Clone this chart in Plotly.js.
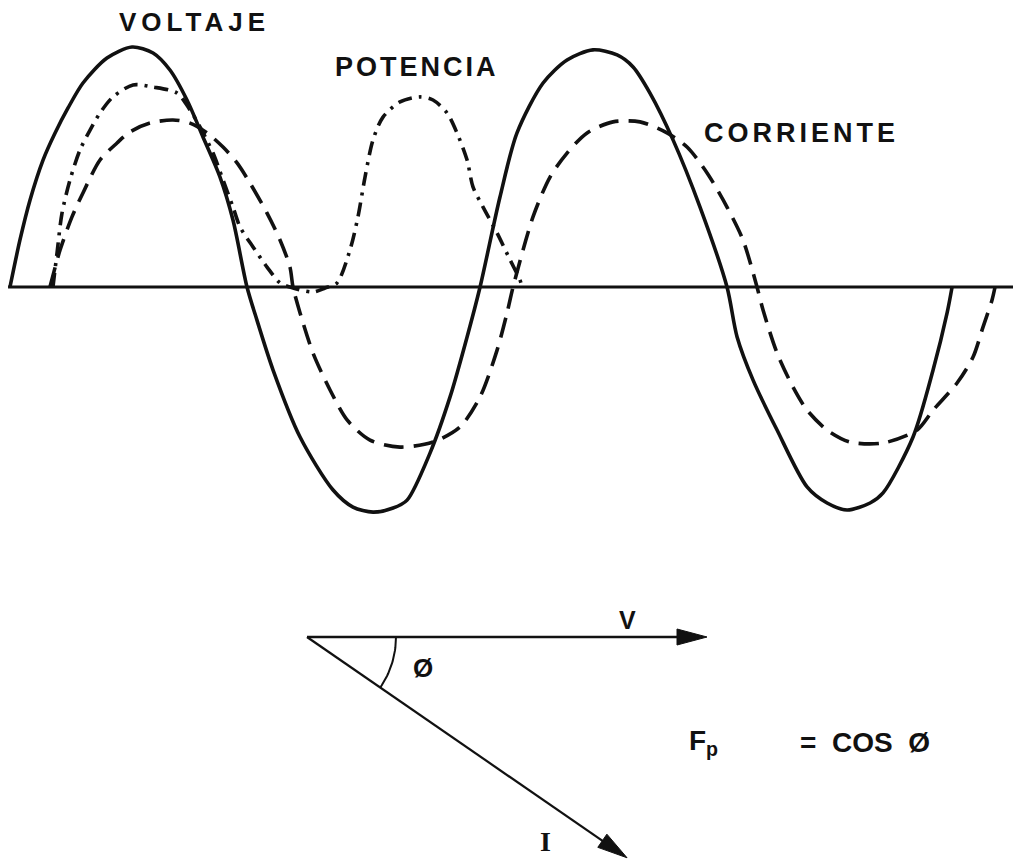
<!DOCTYPE html>
<html>
<head>
<meta charset="utf-8">
<script src="https://cdn.plot.ly/plotly-3.0.1.min.js"></script>
<style>
  html, body { margin: 0; padding: 0; background: #ffffff; }
  #chart { width: 1013px; height: 863px; }
</style>
</head>
<body>
<div id="chart"></div>
<script>
// Waves: x in electrical degrees, y in per-unit of the voltage peak
const voltajeDeg = [0, 7.6, 15.3, 25.2, 34.4, 44.3, 55.7, 74.0, 93.1, 109.2, 122.1, 135.1, 147.3, 160.3, 170.2, 180.9,
  188.5, 200.8, 221.4, 246.6, 261.8, 277.1, 292.4, 303.1, 320.6, 335.9, 348.9, 358.8,
  374.0, 387.0, 406.9, 425.2, 445.0, 463.4, 475.6, 488.5, 506.1, 526.7, 547.3,
  555.0, 567.2, 585.5, 608.4, 623.7, 638.9, 656.5, 666.4, 689.3, 704.6, 715.3, 719.1];
const voltajeAmp = [0, 0.196, 0.363, 0.529, 0.642, 0.746, 0.85, 0.954, 1.0, 0.975, 0.904, 0.779, 0.625, 0.458, 0.279, 0,
  -0.138, -0.346, -0.625, -0.846, -0.917, -0.938, -0.921, -0.888, -0.692, -0.458, -0.208, 0,
  0.375, 0.642, 0.85, 0.946, 0.988, 0.967, 0.917, 0.808, 0.613, 0.333, 0,
  -0.208, -0.388, -0.596, -0.833, -0.9, -0.929, -0.9, -0.858, -0.625, -0.346, -0.108, 0];

const corrienteDeg = [30.5, 38.2, 47.3, 55.7, 68.7, 81.7, 91.6, 106.9, 124.4, 137.4, 150.4, 162.6, 173.3, 183.2, 196.2, 206.1, 213.7, 216.0,
  221.4, 231.3, 244.3, 257.3, 274.8, 297.7, 322.9, 343.5, 358.8, 371.8, 379.4, 384.0,
  399.2, 412.2, 425.2, 440.5, 460.3, 480.9, 501.5, 516.8, 532.1, 547.3, 559.5, 570.2,
  574.8, 585.5, 597.7, 608.4, 623.7, 641.2, 666.4, 692.4, 704.6, 722.9, 735.1, 742.7, 749.6, 751.9];
const corrienteAmp = [0, 0.154, 0.292, 0.392, 0.529, 0.6, 0.646, 0.683, 0.696, 0.683, 0.642, 0.583, 0.517, 0.433, 0.308, 0.196, 0.083, 0,
  -0.108, -0.275, -0.429, -0.554, -0.638, -0.667, -0.646, -0.583, -0.458, -0.263, -0.108, 0,
  0.292, 0.458, 0.558, 0.642, 0.688, 0.688, 0.642, 0.583, 0.475, 0.333, 0.196, 0,
  -0.096, -0.275, -0.417, -0.513, -0.596, -0.646, -0.65, -0.596, -0.513, -0.4, -0.292, -0.167, -0.054, 0];

const potenciaDeg = [32.8, 35.9, 39.7, 45.8, 53.4, 61.1, 68.7, 78.6, 93.9, 109.2, 127.5, 137.4, 145.0, 155.0, 162.6, 170.2, 175.6,
  185.5, 196.2, 206.1, 213.7, 231.3, 240.5, 249.6, 259.5, 265.6, 271.0, 277.1, 284.7, 297.7, 313.0, 322.9,
  333.6, 341.2, 348.9, 353.4, 361.1, 371.8, 381.7, 389.3, 390.8];
const potenciaAmp = [0, 0.142, 0.308, 0.446, 0.571, 0.654, 0.725, 0.792, 0.842, 0.833, 0.808, 0.738, 0.667, 0.558, 0.446, 0.333, 0.25,
  0.167, 0.083, 0.017, 0, -0.021, -0.004, 0.017, 0.154, 0.292, 0.458, 0.613, 0.708, 0.771, 0.792, 0.779,
  0.725, 0.642, 0.529, 0.417, 0.333, 0.225, 0.113, 0.029, 0];

const waveLabels = ["VOLTAJE", "POTENCIA", "CORRIENTE"];

// Phasors: magnitude relative to V, angle in degrees
const phasorNames = ["V", "I"];
const phasorMag = [1.0, 0.972];
const phasorAngleDeg = [0, -34.6];

const INK = "#111111";
const FONT = "Liberation Sans, Arial, sans-serif";
const HEAD_LEN = 0.075;
const HEAD_HALF = 0.02;

function waveTrace(x, y, dash) {
  return {
    x: x, y: y, xaxis: "x", yaxis: "y",
    type: "scatter", mode: "lines",
    line: { color: INK, width: 3.6, dash: dash, shape: "spline", smoothing: 0.8 },
    hoverinfo: "skip", showlegend: false,
  };
}

function tipOf(i) {
  const a = phasorAngleDeg[i] * Math.PI / 180;
  return [phasorMag[i] * Math.cos(a), phasorMag[i] * Math.sin(a), Math.cos(a), Math.sin(a)];
}

function phasorShaft(i) {
  const [tx, ty, ux, uy] = tipOf(i);
  return {
    x: [0, tx - HEAD_LEN * ux * 0.8], y: [0, ty - HEAD_LEN * uy * 0.8],
    xaxis: "x2", yaxis: "y2", type: "scatter", mode: "lines",
    line: { color: INK, width: i === 0 ? 2.6 : 2.2 },
    hoverinfo: "skip", showlegend: false,
  };
}

function phasorHead(i) {
  const [tx, ty, ux, uy] = tipOf(i);
  const bx = tx - HEAD_LEN * ux, by = ty - HEAD_LEN * uy;
  const nx = -uy * HEAD_HALF, ny = ux * HEAD_HALF;
  return {
    type: "path", xref: "x2", yref: "y2",
    path: `M${tx},${ty} L${bx + nx},${by + ny} L${bx - nx},${by - ny} Z`,
    fillcolor: INK, line: { color: INK, width: 1 },
  };
}

// angle arc between V and I
const arcR = 0.2225;
const arcX = [], arcY = [];
for (let k = 0; k <= 20; k++) {
  const a = (phasorAngleDeg[1] * k / 20) * Math.PI / 180;
  arcX.push(arcR * Math.cos(a));
  arcY.push(arcR * Math.sin(a));
}

const traces = [
  waveTrace(voltajeDeg, voltajeAmp, "solid"),
  waveTrace(corrienteDeg, corrienteAmp, "20px,10px"),
  waveTrace(potenciaDeg, potenciaAmp, "14px,7px,3px,7px"),
  phasorShaft(0),
  phasorShaft(1),
  {
    x: arcX, y: arcY, xaxis: "x2", yaxis: "y2", type: "scatter", mode: "lines",
    line: { color: INK, width: 2 }, hoverinfo: "skip", showlegend: false,
  },
];

function spaced(text, px) {
  return `<span style="letter-spacing:${px}px">${text}</span>`;
}

function label(text, x, y, ref, size, extra) {
  return Object.assign({
    text: text, x: x, y: y, xref: ref[0], yref: ref[1],
    showarrow: false, xanchor: "center", yanchor: "middle",
    font: { family: FONT, size: size, color: INK, weight: "bold" },
  }, extra || {});
}

const annotations = [
  label(spaced(waveLabels[0], 5), 140.5, 1.104, ["x", "y"], 26),
  label(spaced(waveLabels[1], 3), 310.7, 0.917, ["x", "y"], 27),
  label(spaced(waveLabels[2], 4), 603.8, 0.642, ["x", "y"], 27),
  label(phasorNames[0], 0.8, 0.0425, ["x2", "y2"], 25),
  label(phasorNames[1], 0.595, -0.512, ["x2", "y2"], 28,
    { font: { family: "Liberation Serif, serif", size: 28, color: INK, weight: "bold" } }),
  label("Ø", 0.29, -0.0775, ["x2", "y2"], 26),
  label("F<sub>p</sub>", 0.95, -0.264, ["x2", "y2"], 28, { xanchor: "left" }),
  label("=\u00A0 COS\u00A0 Ø", 1.2275, -0.264, ["x2", "y2"], 28, { xanchor: "left" }),
];

const hidden = { visible: false, showgrid: false, zeroline: false, fixedrange: true };

const layout = {
  width: 1013, height: 863,
  margin: { l: 0, r: 0, t: 0, b: 0 },
  paper_bgcolor: "#ffffff",
  plot_bgcolor: "#ffffff",
  showlegend: false,
  xaxis: Object.assign({ range: [-7.634, 765.6], domain: [0, 1], anchor: "y" }, hidden),
  yaxis: Object.assign({ range: [-1.1375, 1.1958], domain: [0.3511, 1], anchor: "x" }, hidden),
  xaxis2: Object.assign({ range: [-0.7675, 1.765], domain: [0, 1], anchor: "y2" }, hidden),
  yaxis2: Object.assign({ range: [-0.565, 0.1925], domain: [0, 0.3511], anchor: "x2" }, hidden),
  shapes: [
    { type: "line", xref: "x", yref: "y", x0: -1.5, x1: 765.6, y0: 0, y1: 0, line: { color: INK, width: 3.2 } },
    phasorHead(0),
    phasorHead(1),
  ],
  annotations: annotations,
};

Plotly.newPlot("chart", traces, layout, { displayModeBar: false, staticPlot: true });
</script>
</body>
</html>
